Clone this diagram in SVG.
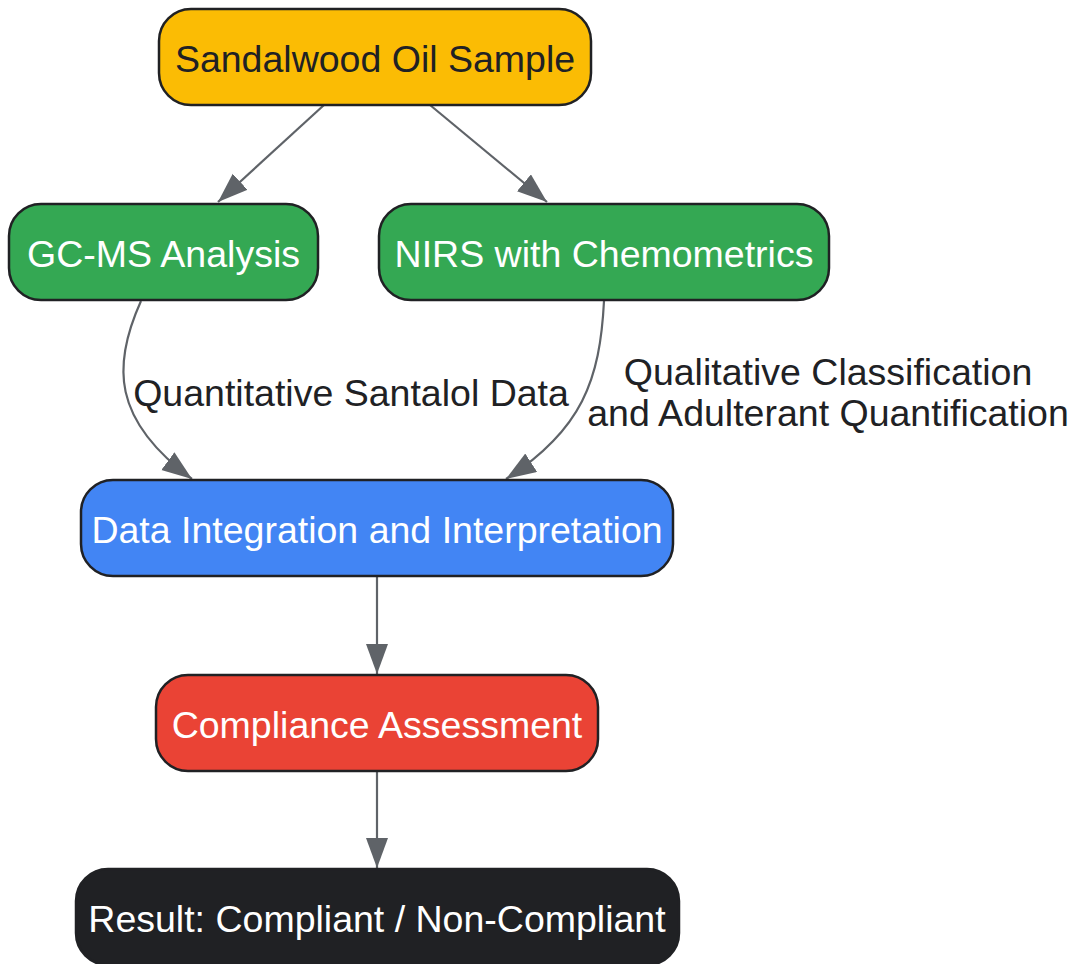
<svg xmlns="http://www.w3.org/2000/svg" width="1070" height="964" viewBox="0 0 1070 964">
<defs>
<style>
.node rect{stroke:#202124;stroke-width:2.5}
.t{font-family:"Liberation Sans",Arial,sans-serif;font-size:37.5px;text-anchor:middle}
.dark{fill:#202124}
.light{fill:#ffffff}
.edge{fill:none;stroke:#5f6368;stroke-width:2.2}
.lbl{font-family:"Liberation Sans",Arial,sans-serif;font-size:37.5px;text-anchor:middle;fill:#202124}
</style>
<marker id="arr" markerUnits="userSpaceOnUse" markerWidth="31" markerHeight="23" refX="30" refY="11" orient="auto">
<path d="M0,0 L30,11 L0,22 z" fill="#5f6368"/>
</marker>
</defs>
<rect width="1070" height="964" fill="#ffffff"/>
<g id="connectors">
<path class="edge" d="M324,105 L218,202" marker-end="url(#arr)"/>
<path class="edge" d="M430,105 L547,202" marker-end="url(#arr)"/>
<path class="edge" d="M141,301 C112,365 112,420 192,479" marker-end="url(#arr)"/>
<path class="edge" d="M604,301 C600,380 582,430 506,479" marker-end="url(#arr)"/>
<path class="edge" d="M377,577 L377,674" marker-end="url(#arr)"/>
<path class="edge" d="M377,772 L377,868" marker-end="url(#arr)"/>
<text class="lbl" x="351" y="406">Quantitative Santalol Data</text>
<text class="lbl" x="828" y="385">Qualitative Classification</text>
<text class="lbl" x="828" y="426">and Adulterant Quantification</text>
</g>
<g id="sample" class="node">
<rect x="159" y="9" width="432" height="96" rx="32" fill="#fbbc04"/>
<text class="t dark" x="375" y="72">Sandalwood Oil Sample</text>
</g>
<g id="gcms" class="node">
<rect x="9" y="204" width="309" height="96" rx="32" fill="#34a853"/>
<text class="t light" x="163.5" y="267">GC-MS Analysis</text>
</g>
<g id="nirs" class="node">
<rect x="379" y="204" width="450" height="96" rx="32" fill="#34a853"/>
<text class="t light" x="604" y="267">NIRS with Chemometrics</text>
</g>
<g id="integration" class="node">
<rect x="81" y="480" width="592" height="96" rx="32" fill="#4285f4"/>
<text class="t light" x="377" y="543">Data Integration and Interpretation</text>
</g>
<g id="compliance" class="node">
<rect x="156" y="675" width="442" height="96" rx="32" fill="#ea4335"/>
<text class="t light" x="377" y="738">Compliance Assessment</text>
</g>
<g id="result" class="node">
<rect x="76" y="869" width="603" height="96" rx="32" fill="#202124"/>
<text class="t light" x="377" y="932">Result: Compliant / Non-Compliant</text>
</g>
</svg>
